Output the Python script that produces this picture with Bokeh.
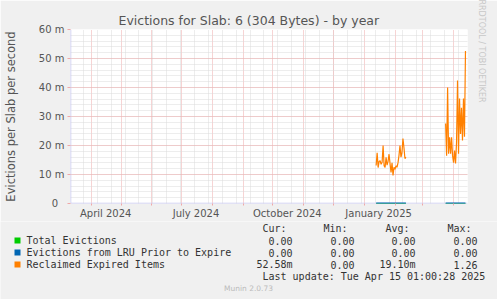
import numpy as np
import pandas as pd
from bokeh.plotting import figure
from bokeh.layouts import column, row
from bokeh.models import FixedTicker, Range1d, Title, Span
from bokeh.core.properties import value
from bokeh.embed import file_html
from bokeh.resources import INLINE

# ---------------- data ----------------
seg1_start = "2025-01-13"
seg1_values = [13.1, 17.5, 12.4, 14.5, 14.8, 13.5, 14.2, 20.0, 13.0, 12.4, 15.9,
               13.2, 14.5, 17.0, 13.8, 10.7, 14.0, 9.7, 12.5, 11.8, 13.0, 12.5,
               14.0, 16.5, 20.0, 16.0, 17.5, 22.4, 19.3, 15.5, 16.0]
seg2_start = "2025-03-24"
seg2_values = [27.6, 16.5, 40.0, 17.2, 22.8, 17.2, 22.8, 16.5, 14.1, 18.3, 13.8,
               21.0, 42.4, 17.2, 36.2, 24.0, 33.0, 21.7, 36.2, 23.0, 52.58]

legend_names = ["Total Evictions", "Evictions from LRU Prior to Expire", "Reclaimed Expired Items"]
legend_colors = ["#00CC00", "#0066B3", "#FF8000"]
cur_vals = ["0.00", "0.00", "52.58m"]
min_vals = ["0.00", "0.00", "0.00"]
avg_vals = ["0.00", "0.00", "19.10m"]
max_vals = ["0.00", "0.00", "1.26"]
col_heads = ["Cur:", "Min:", "Avg:", "Max:"]
last_update = "Last update: Tue Apr 15 01:00:28 2025"
footer = "Munin 2.0.73"

y_ticks = [0, 10, 20, 30, 40, 50, 60]
y_tick_labels = ["0\u00a0\u00a0", "10 m", "20 m", "30 m", "40 m", "50 m", "60 m"]
x_label_dates = ["2024-04-15 12:00", "2024-07-15 12:00", "2024-10-15 12:00", "2025-01-15 12:00"]
x_label_texts = ["April 2024", "July 2024", "October 2024", "January 2025"]

range_end = pd.Timestamp("2025-04-15 01:00")
range_start = range_end - pd.Timedelta(days=400)


def ms(t):
    return int(pd.Timestamp(t).value // 10**6)


d1 = pd.date_range(seg1_start, periods=len(seg1_values), freq="D")
d2 = pd.date_range(seg2_start, periods=len(seg2_values), freq="D")
xs = [ms(t) for t in d1] + [ms("2025-03-01")] + [ms(t) for t in d2]
ys = list(seg1_values) + [np.nan] + list(seg2_values)
zs = [0.0] * len(seg1_values) + [np.nan] + [0.0] * len(seg2_values)

month_ms = [ms(t) for t in pd.date_range("2024-04-01", "2025-04-01", freq="MS")]
biweek_ms = [ms(t) for t in pd.date_range("2024-03-24", "2025-04-15", freq="14D")]
label_ms = [ms(t) for t in x_label_dates]

# ---------------- main figure ----------------
W = 497
H1 = 221
FL, FR, FT, FB = 67, 467, 29, 203
BG = "#F0F0F0"
p = figure(width=W, height=H1, x_axis_type="datetime",
           x_range=Range1d(ms(range_start), ms(range_end)), y_range=Range1d(0, 60),
           output_backend="svg", toolbar_location=None,
           min_border_left=FL, min_border_right=W - FR, min_border_top=FT,
           min_border_bottom=H1 - FB,
           background_fill_color="white", border_fill_color=BG)
p.outline_line_color = None

p.title.text = "Evictions for Slab: 6 (304 Bytes) - by year"
p.title.align = "left"
p.title.offset = 48
p.title.standoff = 4
p.title.text_font = "DejaVu Sans"
p.title.text_font_size = "12.5px"
p.title.text_font_style = "normal"
p.title.text_color = "#555555"

grid_major = "#EFA8A8"
grid_minor = "#DADADA"
axis_col = "#C8C8F0"

p.xgrid.ticker = FixedTicker(ticks=month_ms, minor_ticks=biweek_ms)
p.ygrid.ticker = FixedTicker(ticks=y_ticks, minor_ticks=list(range(0, 61, 2)))
for g in (p.xgrid, p.ygrid):
    g.grid_line_color = grid_major
    g.grid_line_dash = "1 1"
    g.minor_grid_line_color = grid_minor
    g.minor_grid_line_dash = "1 1"

xa = p.xaxis[0]
xa.ticker = FixedTicker(ticks=label_ms, minor_ticks=month_ms)
xa.major_label_overrides = {k: v for k, v in zip(label_ms, x_label_texts)}
xa.major_tick_out = 0
xa.major_tick_in = 0
xa.minor_tick_out = 2
xa.minor_tick_in = 0
xa.minor_tick_line_color = grid_major
xa.axis_line_color = None
xa.major_label_text_font = "DejaVu Sans"
xa.major_label_text_font_size = "10px"
xa.major_label_text_color = "#555555"
xa.major_label_standoff = 2

ya = p.yaxis[0]
ya.ticker = FixedTicker(ticks=y_ticks)
ya.major_label_overrides = {k: v for k, v in zip(y_ticks, y_tick_labels)}
ya.major_tick_out = 3
ya.major_tick_in = 0
ya.major_tick_line_color = grid_major
ya.minor_tick_out = 0
ya.minor_tick_in = 0
ya.axis_line_color = None
ya.major_label_text_font = "DejaVu Sans"
ya.major_label_text_font_size = "10px"
ya.major_label_text_color = "#555555"
ya.major_label_standoff = 3
ya.axis_label = "Evictions per Slab per second"
ya.axis_label_text_font = "DejaVu Sans"
ya.axis_label_text_font_size = "11.5px"
ya.axis_label_text_font_style = "normal"
ya.axis_label_text_color = "#555555"
ya.axis_label_standoff = 18

# axis lines drawn beneath the series
p.add_layout(Span(location=0, dimension="width", line_color=axis_col, line_width=1.5,
                  level="underlay"))
p.add_layout(Span(location=ms(range_start), dimension="height", line_color=axis_col,
                  line_width=1.5, level="underlay"))

wm = Title(text="RRDTOOL / TOBI OETIKER", align="left", offset=-30, text_font="DejaVu Sans",
           text_font_size="8px", text_font_style="normal", text_color="#C8C8C8",
           standoff=19)
p.add_layout(wm, "right")

# series
p.line(xs, zs, color=legend_colors[0], line_width=1)
p.line(xs, zs, color=legend_colors[1], line_width=2)
p.line(xs, ys, color=legend_colors[2], line_width=1.2)

# ---------------- legend figure ----------------
H2 = 299 - H1
q = figure(width=W, height=H2, x_range=Range1d(0, W), y_range=Range1d(299, H1),
           output_backend="svg", toolbar_location=None,
           x_axis_location=None, y_axis_location=None, min_border=0,
           background_fill_color=BG, border_fill_color=BG)
q.outline_line_color = None
q.xgrid.visible = False
q.ygrid.visible = False

mono = dict(text_font=value("DejaVu Sans Mono"), text_font_size="10px",
            text_color="#333333", text_baseline="middle")
hdr_y = 228
row_ys = [240, 252, 264]
q.text(x=[262, 323, 385, 447], y=[hdr_y] * 4, text=col_heads, text_align="left", **mono)
q.rect(x=[17, 17, 17], y=row_ys, width=6, height=6, fill_color=legend_colors,
       line_color=None)
q.text(x=[26] * 3, y=row_ys, text=legend_names, text_align="left", **mono)
for cx, vals in zip([292, 354, 415, 477], [cur_vals, min_vals, avg_vals, max_vals]):
    q.text(x=[cx] * 3, y=row_ys, text=vals, text_align="right", **mono)
q.text(x=[262], y=[276], text=[last_update], text_align="left", **mono)
q.text(x=[248], y=[288], text=[footer], text_align="center", text_baseline="middle",
       text_font=value("DejaVu Sans"), text_font_size="7.5px", text_color="#BBBBBB")

layout = column(p, row(q))
open("out.html", "w").write(file_html(layout, INLINE))
